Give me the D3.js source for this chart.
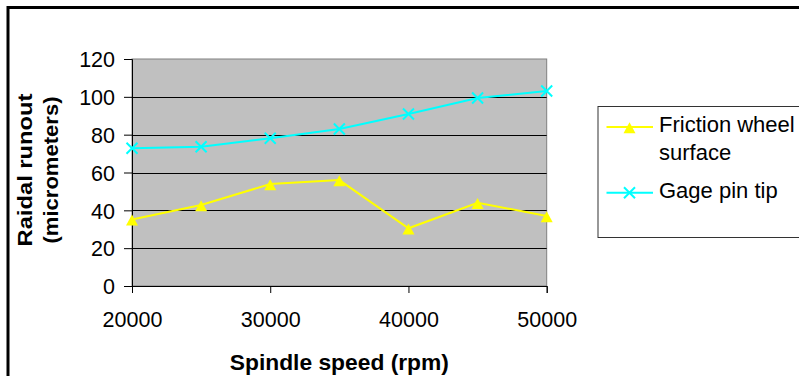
<!DOCTYPE html>
<html>
<head>
<meta charset="utf-8">
<script src="https://cdn.jsdelivr.net/npm/d3@7"></script>
<style>
  html, body { margin: 0; padding: 0; background: #fff; }
  svg { display: block; }
  text { font-family: "Liberation Sans", Arial, sans-serif; fill: #000; }
</style>
</head>
<body>
<svg id="chart" width="799" height="376"></svg>
<script>
// ---- data ----
const speeds = [20000, 25000, 30000, 35000, 40000, 45000, 50000];
const friction = [35.2, 42.8, 53.9, 56.0, 30.5, 44.0, 37.0];
const gage = [72.8, 73.6, 78.1, 83.0, 90.9, 99.4, 103.1];
const yTicks = [0, 20, 40, 60, 80, 100, 120];
const xTicks = [20000, 30000, 40000, 50000];
const seriesNames = ["Friction wheel", "Gage pin tip"];
const xTitle = "Spindle speed (rpm)";
const yTitleLines = ["Raidal runout", "(micrometers)"];

const svg = d3.select("#chart");
const W = 799, H = 376;
const plot = { left: 132, top: 59, right: 546.7, bottom: 286 };

svg.append("rect").attr("width", W).attr("height", H).attr("fill", "#fff");
// outer chart border (extends past the visible window)
svg.append("rect").attr("x", 8).attr("y", 7.5).attr("width", 900).attr("height", 500)
  .attr("fill", "none").attr("stroke", "#000").attr("stroke-width", 3);

const x = d3.scaleLinear().domain([20000, 50000]).range([plot.left, plot.right]);
const y = d3.scaleLinear().domain([0, 120]).range([plot.bottom, plot.top]);

// plot area
svg.append("rect").attr("x", plot.left).attr("y", plot.top)
  .attr("width", plot.right - plot.left).attr("height", plot.bottom - plot.top)
  .attr("fill", "#C0C0C0").attr("stroke", "#808080").attr("stroke-width", 1);

// gridlines
svg.append("g").selectAll("line").data(yTicks.filter(d => d > 0 && d < 120)).join("line")
  .attr("x1", plot.left).attr("x2", plot.right)
  .attr("y1", d => Math.round(y(d)) + 0.5).attr("y2", d => Math.round(y(d)) + 0.5)
  .attr("stroke", "#000").attr("stroke-width", 1);

// axes
const yAxis = d3.axisLeft(y).tickValues(yTicks).tickSize(8).tickPadding(9).tickFormat(d3.format("d"));
const gy = svg.append("g").attr("transform", `translate(${plot.left},0)`).call(yAxis);
gy.select(".domain").attr("stroke", "#000");
gy.selectAll(".tick line").attr("stroke", "#000");
gy.selectAll(".tick text").attr("font-size", "21.5px").attr("dy", "0.36em")
  .style("font-family", "'Liberation Sans', Arial, sans-serif").attr("fill", "#000");

const xAxis = d3.axisBottom(x).tickValues(xTicks).tickSize(7).tickPadding(18.5).tickFormat(d3.format("d"));
const gx = svg.append("g").attr("transform", `translate(0,${plot.bottom})`).call(xAxis);
gx.select(".domain").attr("stroke", "#000");
gx.selectAll(".tick line").attr("stroke", "#000");
gx.selectAll(".tick text").attr("font-size", "21.5px")
  .style("font-family", "'Liberation Sans', Arial, sans-serif").attr("fill", "#000");

// axis titles
svg.append("text").attr("x", (plot.left + plot.right) / 2).attr("y", 370)
  .attr("text-anchor", "middle").attr("font-weight", "bold").attr("font-size", "22.8px")
  .text(xTitle);

const yTitleLens = [153, 147];
const yTitleBase = [32.3, 57.5];
yTitleLines.forEach((t, i) => {
  svg.append("text")
    .attr("transform", `translate(${yTitleBase[i]},170) rotate(-90)`)
    .attr("text-anchor", "middle").attr("font-weight", "bold").attr("font-size", "20px")
    .attr("textLength", yTitleLens[i]).attr("lengthAdjust", "spacingAndGlyphs")
    .text(t);
});

// series
const tri = "M0,-4.8L6,6.2L-6,6.2Z";
const cross = "M-5.5,-5.5L5.5,5.5M-5.5,5.5L5.5,-5.5";
const line = d3.line().x(d => x(d[0])).y(d => y(d[1]));

const fData = speeds.map((s, i) => [s, friction[i]]);
const gData = speeds.map((s, i) => [s, gage[i]]);

svg.append("path").datum(gData).attr("d", line).attr("fill", "none")
  .attr("stroke", "#00FFFF").attr("stroke-width", 2);
svg.append("g").selectAll("path").data(gData).join("path")
  .attr("transform", d => `translate(${x(d[0])},${y(d[1])})`)
  .attr("d", cross).attr("stroke", "#00FFFF").attr("stroke-width", 2).attr("fill", "none");

svg.append("path").datum(fData).attr("d", line).attr("fill", "none")
  .attr("stroke", "#FFFF00").attr("stroke-width", 2);
svg.append("g").selectAll("path").data(fData).join("path")
  .attr("transform", d => `translate(${x(d[0])},${y(d[1])})`)
  .attr("d", tri).attr("fill", "#FFFF00");

// legend
const lg = svg.append("g");
lg.append("rect").attr("x", 598).attr("y", 106.5).attr("width", 300).attr("height", 131)
  .attr("fill", "#fff").attr("stroke", "#333").attr("stroke-width", 1);

lg.append("line").attr("x1", 606.5).attr("x2", 653).attr("y1", 127).attr("y2", 127)
  .attr("stroke", "#FFFF00").attr("stroke-width", 2);
lg.append("path").attr("transform", "translate(629.5,127)").attr("d", tri).attr("fill", "#FFFF00");
lg.append("text").attr("x", 659).attr("y", 131.5).attr("font-size", "22px").text(seriesNames[0]);
lg.append("text").attr("x", 659).attr("y", 160).attr("font-size", "22px").text("surface");

lg.append("line").attr("x1", 606.5).attr("x2", 653).attr("y1", 192.7).attr("y2", 192.7)
  .attr("stroke", "#00FFFF").attr("stroke-width", 2);
lg.append("path").attr("transform", "translate(629.5,192.7)").attr("d", cross)
  .attr("stroke", "#00FFFF").attr("stroke-width", 2).attr("fill", "none");
lg.append("text").attr("x", 659).attr("y", 198).attr("font-size", "22px").text(seriesNames[1]);
</script>
</body>
</html>
